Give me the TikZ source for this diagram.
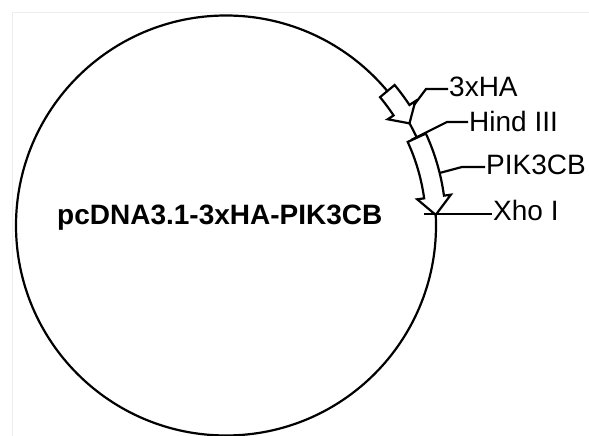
\documentclass[tikz,border=0pt]{standalone}
\usepackage{fontspec}
\setmainfont{Liberation Sans}
\usetikzlibrary{calc}
\begin{document}
\begin{tikzpicture}[x=1pt,y=1pt,
  lbl/.style={font=\fontsize{28}{32}\selectfont, inner sep=0pt, anchor=base west},
  ttl/.style={font=\bfseries\fontsize{28}{32}\selectfont, inner sep=0pt, anchor=base west},
  feat/.style={draw=black, fill=white, line width=2.2pt, line join=miter},
  leader/.style={draw=black, line width=2.2pt},
  ring/.style={draw=black, circle, minimum size=420pt, inner sep=0pt, line width=2.2pt}]
\useasboundingbox (0,0) rectangle (589,436);
\fill[white] (0,0) rectangle (589,436);
\draw[black!7, line width=0.8pt] (12,0) -- (12,424) -- (589,424);
\coordinate (C) at (226,210.5);
\node[ring] (plasmid) at (C) {};
% 3xHA feature arrow
\draw[feat] ($(C)+(39.8:219.5)$) arc[start angle=39.8, end angle=33.3, radius=219.5]
  -- ($(C)+(33.3:226.5)$) -- ($(C)+(29.1:210)$) -- ($(C)+(33.3:193.5)$)
  -- ($(C)+(33.3:200.5)$) arc[start angle=33.3, end angle=39.8, radius=200.5] -- cycle;
% PIK3CB feature arrow
\draw[feat] ($(C)+(24.7:220)$) arc[start angle=24.7, end angle=7.8, radius=220]
  -- ($(C)+(7.8:227)$) -- ($(C)+(2.9:210)$) -- ($(C)+(7.8:193)$)
  -- ($(C)+(7.8:200)$) arc[start angle=7.8, end angle=24.7, radius=200] -- cycle;
% labels
\node[ttl] (name) at (57,211) {pcDNA3.1-3xHA-PIK3CB};
\node[lbl] (ha) at (449,339) {3xHA};
\node[lbl] (hind) at (469,304) {Hind III};
\node[lbl] (pik) at (486,261) {PIK3CB};
\node[lbl] (xho) at (493,215) {Xho I};
% leader start points
\coordinate (haS) at (414,331);
\coordinate (hindS) at (411,296);
\coordinate (pikS) at (439.5,263);
\coordinate (xhoS) at (424,222);
\draw[leader] (haS) -- (426,347) -- ($(ha.base west)+(-1,8)$);
\draw[leader] (hindS) -- (447,314) -- ($(hind.base west)+(-1,10)$);
\draw[leader] (pikS) -- (462,269) -- ($(pik.base west)+(-1,8)$);
\draw[leader] (xhoS) -- ($(xho.base west)+(-1,7)$);
\end{tikzpicture}
\end{document}
